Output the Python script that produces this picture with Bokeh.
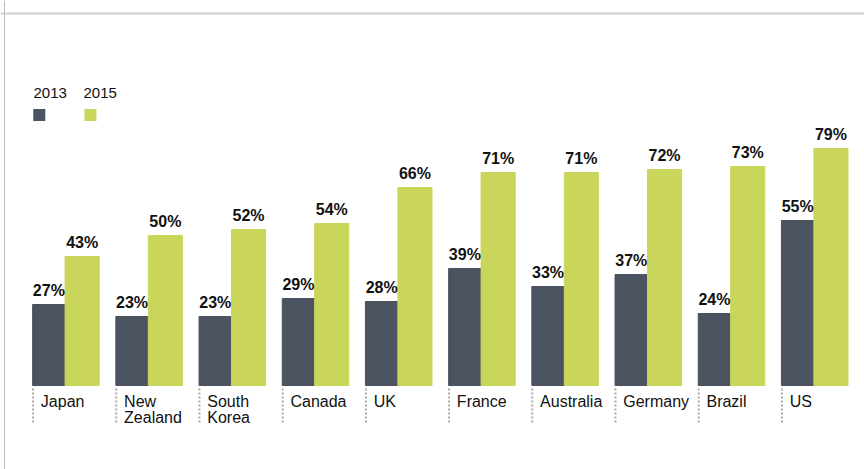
from bokeh.plotting import figure
from bokeh.models import Range1d, ColumnDataSource, Span
from bokeh.core.properties import value
from bokeh.embed import file_html
from bokeh.resources import INLINE

categories = ["Japan", "New\nZealand", "South\nKorea", "Canada", "UK", "France",
              "Australia", "Germany", "Brazil", "US"]
values_2013 = [27, 23, 23, 29, 28, 39, 33, 37, 24, 55]
values_2015 = [43, 50, 52, 54, 66, 71, 71, 72, 73, 79]
series_names = ["2013", "2015"]

DARK = "#4b5361"
LIGHT = "#c9d65b"
FONT = "Liberation Sans"

W, H = 864, 469
GROUP_PX = 83.2      # pixels per category
FIRST_CENTER_PX = 65  # pixel of first group center
BASE_PX = 385         # baseline pixel from top
PX_PER_UNIT = 3.0

x_start = -FIRST_CENTER_PX / GROUP_PX
x_end = (W - FIRST_CENTER_PX) / GROUP_PX
y_start = -(H - BASE_PX) / PX_PER_UNIT
y_end = BASE_PX / PX_PER_UNIT

p = figure(width=W, height=H, output_backend="svg", toolbar_location=None,
           x_range=Range1d(x_start, x_end), y_range=Range1d(y_start, y_end),
           min_border=0, min_border_left=0, min_border_right=0,
           min_border_top=0, min_border_bottom=0)
p.axis.visible = False
p.grid.visible = False
p.outline_line_color = None
p.background_fill_color = "white"
p.border_fill_color = "white"

idx = list(range(len(categories)))
src = ColumnDataSource(dict(
    x13=[i - 0.2 for i in idx], x15=[i + 0.2 for i in idx],
    v13=values_2013, v15=values_2015,
    l13=[f"{v}%" for v in values_2013], l15=[f"{v}%" for v in values_2015],
    ly13=[v + 2 for v in values_2013], ly15=[v + 2 for v in values_2015],
    xc=[i - 0.296 for i in idx], xd=[i - 0.39 for i in idx],
    cat=categories,
))

p.vbar(x="x13", top="v13", bottom=0, width=0.39, color=DARK, source=src)
p.vbar(x="x15", top="v15", bottom=0, width=0.41, color=LIGHT, source=src)

p.text(x="x13", y="ly13", text="l13", source=src, text_align="center",
       text_baseline="bottom", text_font=value(FONT), text_font_size="16px",
       text_font_style="bold", text_color="#111111")
p.text(x="x15", y="ly15", text="l15", source=src, text_align="center",
       text_baseline="bottom", text_font=value(FONT), text_font_size="16px",
       text_font_style="bold", text_color="#111111")

# category labels
p.text(x="xc", y=-2.5, text="cat", source=src, text_align="left",
       text_baseline="top", text_font=value(FONT), text_font_size="16px",
       text_color="#111111", text_line_height=0.93)

# dotted separators below the baseline
p.segment(x0="xd", y0=-1, x1="xd", y1=-12.5, source=src, line_color="#a8a8a8",
          line_width=2, line_dash="2 2")

# legend
leg_x = [-0.385, 0.216]
p.text(x=leg_x, y=[96, 96], text=series_names, text_align="left",
       text_baseline="bottom", text_font=value(FONT), text_font_size="15px",
       text_color="#111111")
p.scatter(x=[-0.315, 0.30], y=[90.2, 90.2], marker="square", size=12,
          color=[DARK, LIGHT], line_color=None)

# frame lines (top and left)
p.add_layout(Span(location=(BASE_PX - 13) / PX_PER_UNIT, dimension="width",
                  line_color="#cfcfcf", line_width=2))
p.add_layout(Span(location=(4 - FIRST_CENTER_PX) / GROUP_PX, dimension="height",
                  line_color="#bdbdbd", line_width=1))

open("out.html", "w").write(file_html(p, INLINE))
